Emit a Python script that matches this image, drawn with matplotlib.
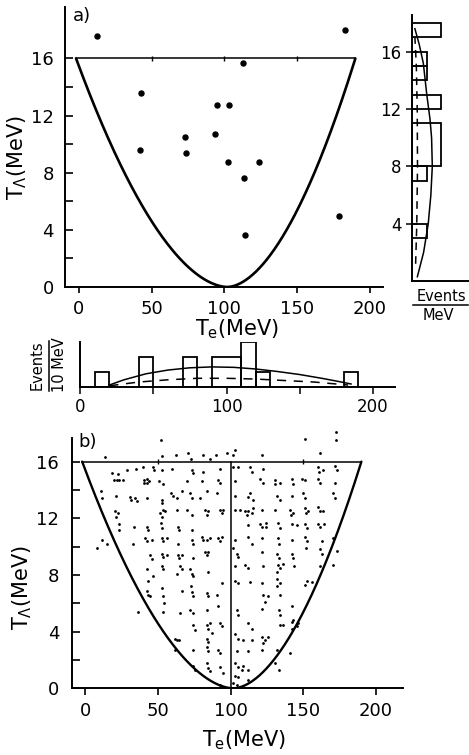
import numpy as np
import matplotlib
matplotlib.use('Agg')
import matplotlib.pyplot as plt
from matplotlib.lines import Line2D

# ---- panel a: the 15 events (T_e, T_Lambda) in MeV
te_a = [12.2, 42.8, 41.9, 72.9, 73.3, 93.7, 94.8, 103.3, 102.4, 112.9, 123.9, 113.6, 114.1, 178.7, 182.8]
tl_a = [17.6, 13.6, 9.6, 10.5, 9.4, 10.7, 12.75, 12.75, 8.75, 15.65, 8.77, 7.63, 3.65, 4.96, 18.0]

# T_e projection histogram (events / 10 MeV)
te_bin_left = [10, 40, 70, 90, 110, 120, 180]
te_bin_width = [10, 10, 10, 20, 10, 10, 10]
te_counts = [1, 2, 2, 2, 3, 1, 1]
# expected distributions
te_curve_x = [20, 30, 45, 60, 75, 90, 105, 120, 135, 150, 165, 178, 185]
te_curve_y = [0.15, 0.5, 0.9, 1.15, 1.3, 1.36, 1.33, 1.22, 1.05, 0.85, 0.6, 0.36, 0.22]
te_dash_x = [20, 40, 60, 80, 100, 120, 140, 160, 183]
te_dash_y = [0.1, 0.35, 0.5, 0.6, 0.6, 0.55, 0.45, 0.35, 0.15]

# T_Lambda projection histogram (events / MeV)
tl_bin_low = [3, 7, 8, 12, 14, 15, 17]
tl_bin_height = [1, 1, 3, 1, 1, 1, 1]
tl_counts = [1, 1, 2, 2, 1, 1, 2]
tl_curve_t = [0.3, 2, 4, 6, 8, 10, 11.3, 13, 15.2, 16.5, 17.6]
tl_curve_v = [0.37, 0.8, 1.12, 1.3, 1.4, 1.35, 1.24, 1.02, 0.78, 0.5, 0.2]
tl_dash_t = [1.2, 4, 8, 12, 15, 17]
tl_dash_v = [0.25, 0.33, 0.38, 0.36, 0.3, 0.2]

# ---- panel b: simulated events
te_b = [52.0, 13.7, 52.7, 62.3, 71.0, 72.9, 80.9, 85.9, 90.0, 97.4,
        18.3, 28.6, 35.1, 40.1, 46.5, 47.4, 53.2, 60.0, 73.8, 74.5, 81.3, 92.8,
        20.2, 21.8, 23.1, 26.3, 22.9, 40.5, 42.4, 44.0, 40.8, 42.8, 51.1, 53.8, 69.9, 80.6, 91.6, 92.8,
        11.0, 21.1, 30.9, 31.6, 34.4, 35.5, 42.4, 52.7, 53.2, 58.9, 60.7, 63.0, 66.4, 72.2, 73.3, 79.0, 83.6, 90.5,
        11.9, 20.6, 21.3, 22.9, 23.4, 23.6, 33.9, 42.8, 43.5, 51.5, 52.7, 53.8, 55.0, 52.2, 53.2, 63.0, 64.1,
        64.6, 69.9, 73.3, 73.3, 82.5, 84.8, 83.6, 92.8, 93.9, 95.1,
        11.5, 14.9, 33.2, 41.2, 42.4, 45.8, 52.7, 53.8, 56.1, 64.1, 73.3, 74.5, 80.2, 81.3, 83.6, 85.9, 91.6,
        92.8, 93.9, 8.0,
        44.7, 45.8, 52.7, 53.8, 56.1, 64.1, 64.6, 66.4, 74.0, 82.5, 83.6, 84.8,
        42.4, 43.5, 47.0, 53.2, 53.8, 65.3, 66.4, 63.0, 72.2, 73.3, 74.5, 84.8, 93.9,
        42.4, 43.5, 44.7, 53.2, 53.8, 54.3, 66.4, 72.9, 73.3, 74.5, 83.6, 84.8, 90.5,
        36.7, 53.8, 65.3, 72.2, 74.5, 83.6, 91.6,
        61.9, 63.0, 64.6, 74.5, 75.6, 83.6, 84.8, 85.9, 87.1, 83.6, 84.8, 92.8, 93.9,
        61.9, 74.5, 83.6, 84.8, 91.6, 92.8,
        74.5, 75.6, 83.6, 84.8, 85.9, 92.8, 95.1, 92.8,
        151.2, 172.5, 172.5, 161.5, 121.9, 103.1, 101.5,
        101.9, 105.4, 113.4, 114.5, 122.6, 160.3, 161.0, 163.3, 171.8, 173.1,
        103.1, 120.0, 122.1, 130.6, 130.6, 134.0, 142.0, 143.2, 148.9, 151.2, 160.3, 161.5, 171.8,
        103.1, 113.4, 112.3, 115.2, 131.7, 134.0, 142.0, 150.0, 151.2, 170.7, 171.8,
        103.1, 106.5, 110.0, 111.1, 112.3, 115.7, 114.5, 121.4, 130.6, 140.9, 143.2, 141.4, 151.2, 151.8,
        153.5, 160.3, 161.5, 163.3,
        112.3, 120.0, 121.4, 124.4, 124.4, 132.9, 134.0, 142.0, 145.5, 151.2, 152.3, 160.3, 161.5, 164.3,
        103.1, 112.3, 114.5, 121.4, 132.9, 133.6, 142.0, 151.2, 152.3, 162.7, 170.7,
        101.9, 104.2, 105.4, 121.4, 131.7, 133.6, 142.0, 143.2, 151.8, 161.5, 162.7, 173.1,
        103.1, 110.0, 112.3, 122.6, 132.9, 134.0, 131.7, 136.3, 143.6, 161.5, 170.7,
        103.1, 105.4, 113.4, 121.4, 131.7, 134.0, 131.7, 152.3, 155.8, 151.2,
        122.6, 126.0, 123.7, 134.0, 121.4, 142.0,
        104.2, 105.4, 112.3, 114.5, 133.6, 134.0, 134.0, 136.3, 142.0, 143.2, 142.0, 145.5, 146.6,
        103.1, 105.4, 108.8, 114.5, 121.4, 123.7, 126.0, 122.6, 104.2, 112.3, 121.4, 131.7, 140.9,
        103.1, 105.4, 108.8, 107.7, 112.3, 103.1, 112.3, 105.4, 130.6, 133.6, 101.9, 104.2]
tl_b = [17.5, 16.3, 16.4, 16.5, 16.6, 16.2, 16.5, 16.2, 16.5, 16.6,
        15.2, 15.4, 15.5, 15.6, 15.6, 15.4, 15.4, 15.5, 15.4, 15.2, 15.3, 15.5,
        14.7, 14.7, 14.7, 14.7, 15.1, 14.7, 14.8, 14.6, 14.5, 14.5, 14.6, 14.4, 14.6, 14.6, 14.7, 14.5,
        13.9, 13.6, 13.5, 13.3, 13.4, 13.2, 13.4, 13.3, 13.1, 13.8, 13.6, 13.4, 13.9, 13.8, 13.4, 13.4, 13.9, 13.8,
        13.4, 12.5, 12.1, 12.4, 11.2, 11.6, 11.4, 11.4, 11.2, 12.4, 12.1, 12.6, 12.5, 11.7, 11.3, 12.6, 11.4,
        11.2, 12.6, 12.2, 11.2, 12.6, 12.5, 12.2, 12.6, 12.4, 12.6,
        10.5, 10.2, 10.2, 10.6, 10.4, 10.5, 10.6, 10.4, 10.6, 10.2, 10.5, 10.2, 10.7, 10.5, 10.5, 10.6, 10.6,
        10.4, 10.7, 9.9,
        9.4, 9.1, 9.5, 9.3, 9.4, 9.4, 9.2, 9.4, 9.2, 9.6, 9.4, 9.6,
        8.4, 7.6, 7.9, 8.6, 8.4, 8.6, 8.4, 8.1, 8.4, 8.1, 7.9, 8.2, 7.4,
        6.9, 6.6, 6.5, 7.1, 6.5, 6.0, 6.9, 7.2, 6.8, 6.5, 6.7, 6.5, 6.6,
        5.4, 5.4, 5.3, 5.5, 5.3, 5.5, 5.8,
        3.5, 3.4, 3.4, 4.5, 4.1, 4.5, 4.2, 4.6, 3.9, 3.5, 3.3, 4.6, 4.4,
        2.7, 2.7, 2.9, 2.6, 2.7, 2.5,
        1.6, 1.3, 1.8, 1.4, 1.2, 1.5, 1.1, 0.2,
        17.6, 18.1, 17.5, 16.6, 16.5, 16.8, 16.5,
        15.6, 15.6, 15.6, 15.3, 15.5, 15.6, 15.3, 15.4, 15.7, 15.4,
        14.6, 14.8, 14.5, 14.7, 14.4, 14.5, 14.8, 14.4, 14.8, 14.7, 14.8, 14.5, 14.5,
        13.6, 13.8, 13.5, 13.3, 13.6, 13.3, 13.6, 13.8, 13.4, 13.8, 13.4,
        12.6, 12.6, 12.5, 12.2, 12.5, 12.7, 12.4, 12.6, 12.6, 12.6, 12.4, 12.2, 12.7, 12.4,
        12.5, 12.8, 12.5, 12.5,
        11.5, 11.6, 11.4, 11.7, 11.4, 11.7, 11.3, 11.6, 11.5, 11.6, 11.3, 11.6, 11.4, 11.6,
        10.5, 10.7, 10.2, 10.6, 10.6, 10.2, 10.5, 10.7, 10.4, 10.4, 10.6,
        9.9, 9.5, 9.3, 9.6, 9.5, 9.2, 9.5, 9.2, 9.9, 9.8, 9.5, 9.7,
        8.6, 8.7, 8.5, 8.6, 8.7, 8.5, 8.2, 8.8, 8.6, 8.6, 8.7,
        7.6, 7.4, 7.5, 7.4, 7.7, 7.4, 7.2, 7.6, 7.5, 7.3,
        6.6, 6.5, 6.1, 6.6, 5.6, 5.8,
        5.5, 5.2, 4.6, 4.2, 5.5, 5.2, 4.5, 4.5, 4.7, 4.8, 4.2, 4.4, 4.6,
        3.8, 3.5, 3.4, 3.4, 3.6, 3.4, 3.6, 3.2, 2.6, 2.6, 2.7, 2.7, 2.5,
        1.8, 1.5, 1.6, 1.3, 1.3, 0.9, 0.6, 0.8, 1.8, 1.3, 0.4, 0.2]

# kinematic boundary of the (T_e, T_Lambda) plane
T_MAX = 16.0
TE_VERTEX = 102.0
TE_LEFT = -2.0
TE_RIGHT = 190.0
BOUND_POWER = 1.8
top_ticks = [50, 100, 150]


def boundary():
    te = np.linspace(TE_LEFT, TE_RIGHT, 400)
    half = np.where(te < TE_VERTEX, TE_VERTEX - TE_LEFT, TE_RIGHT - TE_VERTEX)
    return te, T_MAX * (np.abs(te - TE_VERTEX) / half) ** BOUND_POWER


def draw_boundary(ax, lw, ticks):
    te, tl = boundary()
    ax.plot(te, tl, color='black', lw=lw, solid_capstyle='round')
    ax.plot([TE_LEFT, TE_RIGHT], [T_MAX, T_MAX], color='black', lw=1.1)
    ax.vlines(ticks, T_MAX - 0.2, T_MAX + 0.2, color='black', lw=1.0)


def lshape(ax):
    for s in ['top', 'right']:
        ax.spines[s].set_visible(False)
    for s in ['left', 'bottom']:
        ax.spines[s].set_linewidth(1.4)
    ax.set_facecolor('none')


W, H = 469, 755
fig = plt.figure(figsize=(W / 100, H / 100), dpi=100)
plt.rcParams['font.family'] = 'DejaVu Sans'


def rect(left, top, right, bottom):
    return [left / W, 1 - bottom / H, (right - left) / W, (bottom - top) / H]


# ---- panel a
ax = fig.add_axes(rect(65, 7, 383, 287))
lshape(ax)
ax.set_xlim(-9.6, 209)
ax.set_ylim(0, 19.6)
draw_boundary(ax, 1.9, top_ticks)
ax.plot(te_a, tl_a, 'o', color='black', ms=3.6)
ax.set_xticks([0, 50, 100, 150, 200])
ax.set_yticks([0, 4, 8, 12, 16])
ax.set_yticks([2, 6, 10, 14], minor=True)
ax.tick_params(axis='x', direction='out', length=4, width=1.2, labelsize=13, pad=5)
ax.tick_params(axis='y', which='both', direction='in', length=6, width=1.2, labelsize=13, pad=8)
fig.text(73 / W, 1 - 16 / H, 'a)', fontsize=13, va='center')
fig.text(17 / W, 1 - 157 / H, r'T$_\Lambda$(MeV)', rotation=90, fontsize=15, ha='center', va='center')
fig.text(237 / W, 1 - 329 / H, r'T$_\mathregular{e}$(MeV)', fontsize=15, ha='center', va='center')

# ---- side histogram in T_Lambda
axs = fig.add_axes(rect(412, 15, 469, 281))
lshape(axs)
axs.set_xlim(0, 3.93)
axs.set_ylim(0, 18.56)
axs.barh(tl_bin_low, tl_counts, height=tl_bin_height, align='edge', fill=False,
         edgecolor='black', lw=1.3)
axs.plot(tl_curve_v, tl_curve_t, color='black', lw=1.1)
axs.plot(tl_dash_v, tl_dash_t, color='black', lw=1.1, dashes=(5, 4))
axs.set_xticks([])
axs.set_yticks([4, 8, 12, 16])
axs.tick_params(axis='y', direction='inout', length=9, width=1.1, labelsize=12, pad=3)
fig.text(441 / W, 1 - 296 / H, 'Events', fontsize=10.5, ha='center', va='center')
fig.add_artist(Line2D([413 / W, 468 / W], [1 - 305 / H, 1 - 305 / H], color='black', lw=1.1))
fig.text(438 / W, 1 - 315 / H, 'MeV', fontsize=10.5, ha='center', va='center')

# ---- bottom histogram in T_e
axh = fig.add_axes(rect(80, 341.7, 395, 387.3))
lshape(axh)
axh.set_xlim(0, 215)
axh.set_ylim(0, 3.04)
axh.bar(te_bin_left, te_counts, width=te_bin_width, align='edge', fill=False,
        edgecolor='black', lw=1.3)
axh.plot(te_curve_x, te_curve_y, color='black', lw=1.1)
axh.plot(te_dash_x, te_dash_y, color='black', lw=1.1, dashes=(6, 5))
axh.set_yticks([])
axh.set_xticks([0, 50, 100, 150, 200])
axh.set_xticklabels(['0', '', '100', '', '200'])
axh.tick_params(axis='x', direction='out', length=5, width=1.1, labelsize=12, pad=3)
fig.text(37 / W, 1 - 365 / H, 'Events', rotation=90, fontsize=10.5, ha='center', va='center')
fig.add_artist(Line2D([49 / W, 49 / W], [1 - 341 / H, 1 - 391 / H], color='black', lw=1.1))
fig.text(59 / W, 1 - 365 / H, '10 MeV', rotation=90, fontsize=10.5, ha='center', va='center')

# ---- panel b
axb = fig.add_axes(rect(71.7, 426.2, 403, 688.3))
lshape(axb)
axb.set_xlim(-9.2, 218.6)
axb.set_ylim(0, 18.5)
axb.spines['left'].set_bounds(0, 17.7)
draw_boundary(axb, 1.7, [50, 150])
axb.plot([TE_VERTEX - 2, TE_VERTEX - 2], [0, T_MAX], color='black', lw=1.1)
axb.plot(te_b, tl_b, 'o', color='black', ms=2.0, mew=0)
axb.set_xticks([0, 50, 100, 150, 200])
axb.set_yticks([0, 4, 8, 12, 16])
axb.set_yticks([2, 6, 10, 14], minor=True)
axb.tick_params(axis='x', direction='out', length=5, width=1.2, labelsize=13, pad=5)
axb.tick_params(axis='y', which='both', direction='in', length=6, width=1.2, labelsize=13, pad=9)
fig.text(78 / W, 1 - 442 / H, 'b)', fontsize=13, va='center')
fig.text(22 / W, 1 - 587 / H, r'T$_\Lambda$(MeV)', rotation=90, fontsize=15, ha='center', va='center')
fig.text(244 / W, 1 - 740 / H, r'T$_\mathregular{e}$(MeV)', fontsize=15, ha='center', va='center')

fig.savefig('out.png', dpi=100)
